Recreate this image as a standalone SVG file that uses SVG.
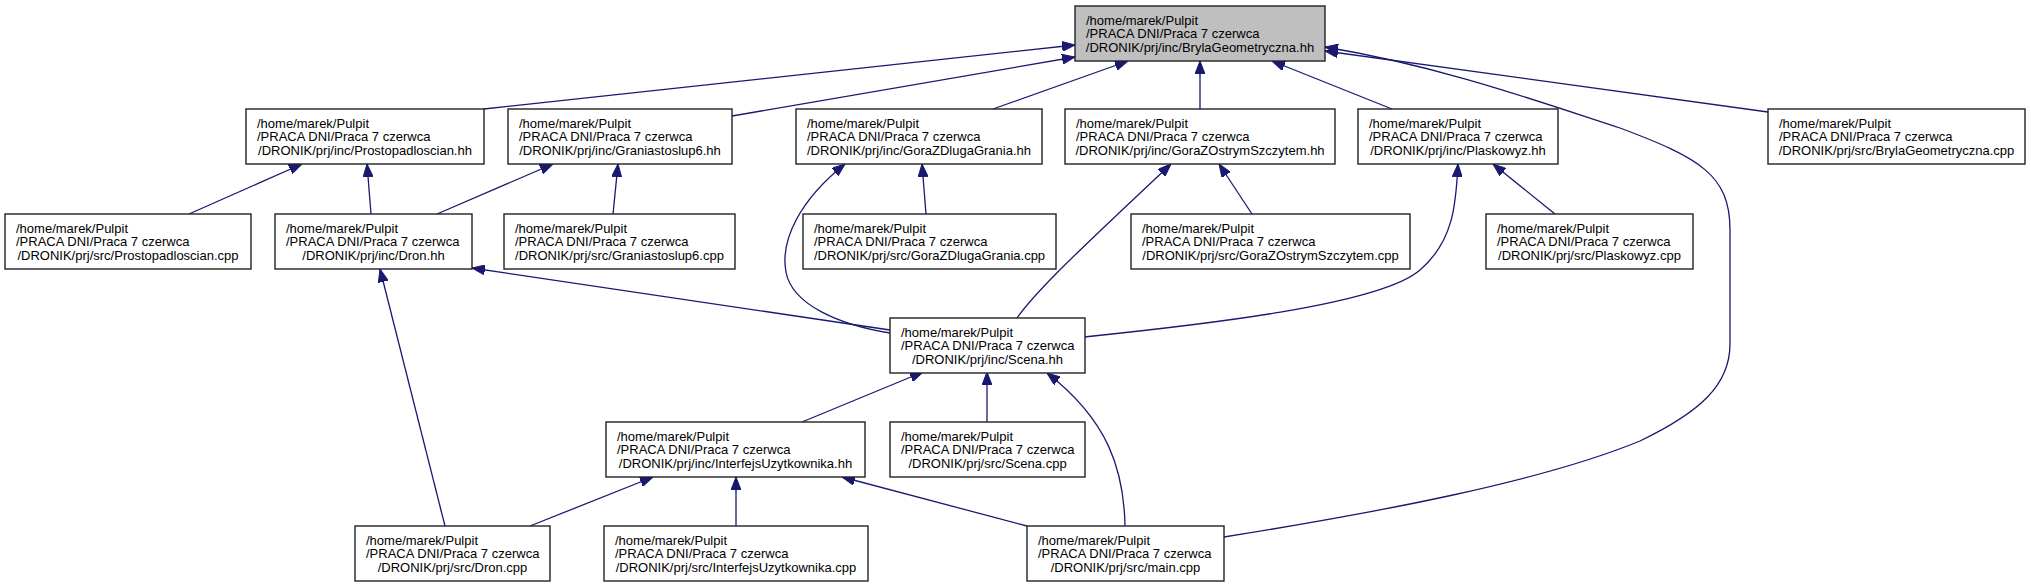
<svg xmlns="http://www.w3.org/2000/svg" width="2031" height="587" viewBox="0 0 2031 587">
<style>
  .box { fill: #ffffff; stroke: #222222; stroke-width: 1.4; }
  .root { fill: #bfbfbf; stroke: #222222; stroke-width: 1.4; }
  text { font-family: "Liberation Sans", Arial, sans-serif; font-size: 13px; fill: #000000; }
  .c { text-anchor: middle; }
  .edge { fill: none; stroke: #191970; stroke-width: 1.3; marker-end: url(#arr); }
</style>
<defs>
  <marker id="arr" markerUnits="userSpaceOnUse" viewBox="0 0 13 10" refX="13" refY="5" markerWidth="13" markerHeight="10" orient="auto">
    <path d="M0,0 L13,5 L0,10 Z" fill="#191970" stroke="#191970" stroke-width="1"/>
  </marker>
</defs>
<rect width="2031" height="587" fill="#ffffff"/>

<g id="connectors">
  <path class="edge" d="M484,109 L1075,45"/>
  <path class="edge" d="M732,116 L1075,57"/>
  <path class="edge" d="M993,109 L1128,61"/>
  <path class="edge" d="M1200,109 L1200,61"/>
  <path class="edge" d="M1392,109 L1272,61"/>
  <path class="edge" d="M1768,112 L1325,51"/>
  <path class="edge" d="M1224,537 C1380,512 1540,482 1640,441 C1700,412 1730,385 1730,344 L1730,230 C1730,175 1700,158 1620,128 C1540,102 1440,66 1325,47"/>
  <path class="edge" d="M189,214 L302,164"/>
  <path class="edge" d="M371,214 L367,164"/>
  <path class="edge" d="M437,214 L553,164"/>
  <path class="edge" d="M613,214 L618,164"/>
  <path class="edge" d="M926,214 L922,164"/>
  <path class="edge" d="M890,333 C840,325 792,305 786,272 C780,240 800,200 845,164"/>
  <path class="edge" d="M1017,318 C1035,292 1080,250 1120,212 L1171,164"/>
  <path class="edge" d="M1252,214 L1219,164"/>
  <path class="edge" d="M1555,214 L1493,164"/>
  <path class="edge" d="M1084,337 C1200,325 1380,305 1420,270 C1455,240 1456,200 1458,164"/>
  <path class="edge" d="M890,330 L472,268"/>
  <path class="edge" d="M445,526 L380,269"/>
  <path class="edge" d="M802,422 L923,372"/>
  <path class="edge" d="M987,422 L987,372"/>
  <path class="edge" d="M1125,526 C1124,470 1108,420 1047,373"/>
  <path class="edge" d="M530,526 L653,477"/>
  <path class="edge" d="M736,526 L736,477"/>
  <path class="edge" d="M1027,526 L842,477"/>
</g>

<g id="node-BrylaGeometryczna-hh">
  <rect class="root" x="1075" y="6" width="250" height="55"/>
  <text x="1086" y="25">/home/marek/Pulpit</text>
  <text x="1086" y="38.3">/PRACA DNI/Praca 7 czerwca</text>
  <text class="c" x="1200" y="51.6">/DRONIK/prj/inc/BrylaGeometryczna.hh</text>
</g>

<g id="node-Prostopadloscian-hh">
  <rect class="box" x="246" y="109" width="238" height="55"/>
  <text x="257" y="128">/home/marek/Pulpit</text>
  <text x="257" y="141.3">/PRACA DNI/Praca 7 czerwca</text>
  <text class="c" x="365" y="154.6">/DRONIK/prj/inc/Prostopadloscian.hh</text>
</g>

<g id="node-Graniastoslup6-hh">
  <rect class="box" x="508" y="109" width="224" height="55"/>
  <text x="519" y="128">/home/marek/Pulpit</text>
  <text x="519" y="141.3">/PRACA DNI/Praca 7 czerwca</text>
  <text class="c" x="620" y="154.6">/DRONIK/prj/inc/Graniastoslup6.hh</text>
</g>

<g id="node-GoraZDlugaGrania-hh">
  <rect class="box" x="796" y="109" width="246" height="55"/>
  <text x="807" y="128">/home/marek/Pulpit</text>
  <text x="807" y="141.3">/PRACA DNI/Praca 7 czerwca</text>
  <text class="c" x="919" y="154.6">/DRONIK/prj/inc/GoraZDlugaGrania.hh</text>
</g>

<g id="node-GoraZOstrymSzczytem-hh">
  <rect class="box" x="1065" y="109" width="270" height="55"/>
  <text x="1076" y="128">/home/marek/Pulpit</text>
  <text x="1076" y="141.3">/PRACA DNI/Praca 7 czerwca</text>
  <text class="c" x="1200" y="154.6">/DRONIK/prj/inc/GoraZOstrymSzczytem.hh</text>
</g>

<g id="node-Plaskowyz-hh">
  <rect class="box" x="1358" y="109" width="200" height="55"/>
  <text x="1369" y="128">/home/marek/Pulpit</text>
  <text x="1369" y="141.3">/PRACA DNI/Praca 7 czerwca</text>
  <text class="c" x="1458" y="154.6">/DRONIK/prj/inc/Plaskowyz.hh</text>
</g>

<g id="node-BrylaGeometryczna-cpp">
  <rect class="box" x="1768" y="109" width="257" height="55"/>
  <text x="1779" y="128">/home/marek/Pulpit</text>
  <text x="1779" y="141.3">/PRACA DNI/Praca 7 czerwca</text>
  <text class="c" x="1896.5" y="154.6">/DRONIK/prj/src/BrylaGeometryczna.cpp</text>
</g>

<g id="node-Prostopadloscian-cpp">
  <rect class="box" x="5" y="214" width="246" height="55"/>
  <text x="16" y="233">/home/marek/Pulpit</text>
  <text x="16" y="246.3">/PRACA DNI/Praca 7 czerwca</text>
  <text class="c" x="128" y="259.6">/DRONIK/prj/src/Prostopadloscian.cpp</text>
</g>

<g id="node-Dron-hh">
  <rect class="box" x="275" y="214" width="197" height="55"/>
  <text x="286" y="233">/home/marek/Pulpit</text>
  <text x="286" y="246.3">/PRACA DNI/Praca 7 czerwca</text>
  <text class="c" x="373.5" y="259.6">/DRONIK/prj/inc/Dron.hh</text>
</g>

<g id="node-Graniastoslup6-cpp">
  <rect class="box" x="504" y="214" width="231" height="55"/>
  <text x="515" y="233">/home/marek/Pulpit</text>
  <text x="515" y="246.3">/PRACA DNI/Praca 7 czerwca</text>
  <text class="c" x="619.5" y="259.6">/DRONIK/prj/src/Graniastoslup6.cpp</text>
</g>

<g id="node-GoraZDlugaGrania-cpp">
  <rect class="box" x="803" y="214" width="253" height="55"/>
  <text x="814" y="233">/home/marek/Pulpit</text>
  <text x="814" y="246.3">/PRACA DNI/Praca 7 czerwca</text>
  <text class="c" x="929.5" y="259.6">/DRONIK/prj/src/GoraZDlugaGrania.cpp</text>
</g>

<g id="node-GoraZOstrymSzczytem-cpp">
  <rect class="box" x="1131" y="214" width="279" height="55"/>
  <text x="1142" y="233">/home/marek/Pulpit</text>
  <text x="1142" y="246.3">/PRACA DNI/Praca 7 czerwca</text>
  <text class="c" x="1270.5" y="259.6">/DRONIK/prj/src/GoraZOstrymSzczytem.cpp</text>
</g>

<g id="node-Plaskowyz-cpp">
  <rect class="box" x="1486" y="214" width="207" height="55"/>
  <text x="1497" y="233">/home/marek/Pulpit</text>
  <text x="1497" y="246.3">/PRACA DNI/Praca 7 czerwca</text>
  <text class="c" x="1589.5" y="259.6">/DRONIK/prj/src/Plaskowyz.cpp</text>
</g>

<g id="node-Scena-hh">
  <rect class="box" x="890" y="318" width="195" height="55"/>
  <text x="901" y="337">/home/marek/Pulpit</text>
  <text x="901" y="350.3">/PRACA DNI/Praca 7 czerwca</text>
  <text class="c" x="987.5" y="363.6">/DRONIK/prj/inc/Scena.hh</text>
</g>

<g id="node-InterfejsUzytkownika-hh">
  <rect class="box" x="606" y="422" width="259" height="55"/>
  <text x="617" y="441">/home/marek/Pulpit</text>
  <text x="617" y="454.3">/PRACA DNI/Praca 7 czerwca</text>
  <text class="c" x="735.5" y="467.6">/DRONIK/prj/inc/InterfejsUzytkownika.hh</text>
</g>

<g id="node-Scena-cpp">
  <rect class="box" x="890" y="422" width="195" height="55"/>
  <text x="901" y="441">/home/marek/Pulpit</text>
  <text x="901" y="454.3">/PRACA DNI/Praca 7 czerwca</text>
  <text class="c" x="987.5" y="467.6">/DRONIK/prj/src/Scena.cpp</text>
</g>

<g id="node-Dron-cpp">
  <rect class="box" x="355" y="526" width="195" height="55"/>
  <text x="366" y="545">/home/marek/Pulpit</text>
  <text x="366" y="558.3">/PRACA DNI/Praca 7 czerwca</text>
  <text class="c" x="452.5" y="571.6">/DRONIK/prj/src/Dron.cpp</text>
</g>

<g id="node-InterfejsUzytkownika-cpp">
  <rect class="box" x="604" y="526" width="264" height="55"/>
  <text x="615" y="545">/home/marek/Pulpit</text>
  <text x="615" y="558.3">/PRACA DNI/Praca 7 czerwca</text>
  <text class="c" x="736" y="571.6">/DRONIK/prj/src/InterfejsUzytkownika.cpp</text>
</g>

<g id="node-main-cpp">
  <rect class="box" x="1027" y="526" width="197" height="55"/>
  <text x="1038" y="545">/home/marek/Pulpit</text>
  <text x="1038" y="558.3">/PRACA DNI/Praca 7 czerwca</text>
  <text class="c" x="1125.5" y="571.6">/DRONIK/prj/src/main.cpp</text>
</g>
</svg>
